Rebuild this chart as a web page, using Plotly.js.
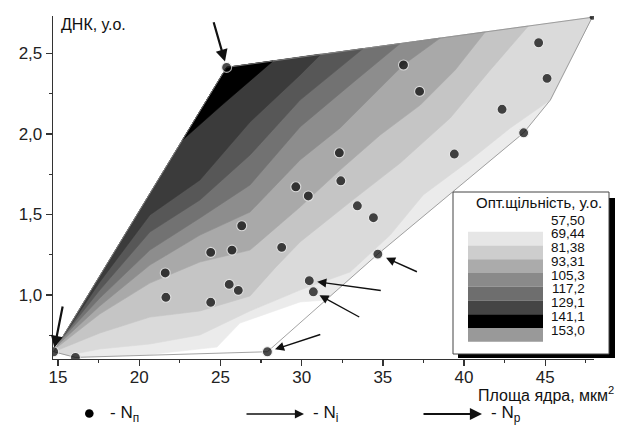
<!DOCTYPE html>
<html><head><meta charset="utf-8">
<script src="https://cdn.plot.ly/plotly-3.0.1.min.js"></script>
<style>html,body{margin:0;padding:0;background:#fff;}#chart{width:627px;height:425px;}</style>
</head><body><div id="chart"></div>
<script>
// Measured points: nucleus area (µm²) and DNA content (a.u.)
const areaX = [14.73,16.07,27.89,21.60,21.64,24.40,24.40,25.71,25.54,26.10,26.31,28.77,25.38,29.64,30.41,30.47,30.72,32.32,32.41,33.43,34.42,34.69,36.27,37.26,39.40,42.34,43.67,44.59,45.11,47.89];
const dnaY  = [0.648,0.613,0.648,1.137,0.986,1.265,0.955,1.279,1.066,1.029,1.430,1.296,2.413,1.672,1.615,1.089,1.020,1.883,1.709,1.554,1.480,1.254,2.428,2.264,1.875,2.153,2.007,2.566,2.345,2.724];

// Outer hull of the interpolated region: A,H,G,F,E,D,C,B
const hullX = [14.73,16.07,27.89,34.69,43.67,45.31,47.89,25.38];
const hullY = [0.648,0.613,0.648,1.254,2.007,2.210,2.724,2.413];

// Contour boundaries (light -> dark)
const K1x=[20.653,24.784,26.202,29.901,31.486];
const K1y=[0.631,0.677,0.826,0.957,0.969];
const K2x=[15.598,17.571,20.653,23.736,26.819,29.901,32.984,35.450,37.484,40.383,42.848,45.31];
const K2y=[0.626,0.665,0.696,0.752,0.901,1.031,1.143,1.372,1.621,1.838,2.037,2.210];
const K3x=[14.73,17.571,20.653,23.736,26.819,28.360,29.901,32.984,36.067,39.149,41.615,43.958];
const K3y=[0.648,0.764,0.863,0.901,0.994,1.168,1.329,1.577,1.819,2.099,2.397,2.670];
const K4x=[14.864,17.571,20.653,23.736,26.819,29.901,32.368,34.834,37.300,39.457,41.307];
const K4y=[0.669,0.882,1.074,1.205,1.279,1.546,1.776,1.993,2.179,2.397,2.633];
const K5x=[15.000,17.571,20.653,23.736,26.819,29.901,32.368,36.252,38.533];
const K5y=[0.692,0.932,1.186,1.372,1.515,1.838,2.037,2.428,2.595];
const K6x=[15.160,17.571,20.653,23.736,26.819,29.901,32.984,36.067];
const K6y=[0.719,0.981,1.279,1.478,1.683,2.043,2.304,2.561];
const K7x=[15.265,17.571,20.653,23.736,26.819,29.901,33.786];
const K7y=[0.736,1.031,1.391,1.590,1.869,2.210,2.530];
const K8x=[15.376,17.571,20.653,23.736,26.819,29.901,31.196];
const K8y=[0.752,1.081,1.497,1.714,2.074,2.366,2.496];
const K9x=[22.663,25.092,28.237];
const K9y=[1.962,2.179,2.453];

const bandColors=['#ebebeb','#dadada','#c5c5c5','#a9a9a9','#8d8d8d','#727272','#575757','#3b3b3b','#000000'];

// Legend of the contour levels
const levelLabels=['57,50','69,44','81,38','93,31','105,3','117,2','129,1','141,1','153,0'];
const legendColors=['#e6e6e6','#cdcdcd','#ababab','#8a8a8a','#6e6e6e','#454545','#000000','#999999'];

const FONT='Liberation Sans, Arial, sans-serif';
const bounds=[
  {x:K1x,y:K1y,tail:[3,4,5,6,7,0,1]},
  {x:K2x,y:K2y,tail:[6,7,0]},
  {x:K3x,y:K3y,tail:[7]},
  {x:K4x,y:K4y,tail:[7]},
  {x:K5x,y:K5y,tail:[7]},
  {x:K6x,y:K6y,tail:[7]},
  {x:K7x,y:K7y,tail:[7]},
  {x:K8x,y:K8y,tail:[7]},
  {x:K9x,y:K9y,tail:[7]}
];
const traces=[];
bounds.forEach((b,i)=>{
  const px=b.x.slice(), py=b.y.slice();
  b.tail.forEach(k=>{px.push(hullX[k]);py.push(hullY[k]);});
  px.push(px[0]);py.push(py[0]);
  traces.push({type:'scatter',mode:'lines',x:px,y:py,fill:'toself',fillcolor:bandColors[i],
    line:{color:bandColors[i],width:0.6},hoverinfo:'skip'});
});
traces.push({type:'scatter',mode:'lines',x:hullX.concat([hullX[0]]),y:hullY.concat([hullY[0]]),
  line:{color:'#8c8c8c',width:0.8},hoverinfo:'skip'});
const sizes=areaX.map((v,i)=>i===areaX.length-1?5:10);
const lw=areaX.map((v,i)=>i===areaX.length-1?0:1.1);
traces.push({type:'scatter',mode:'markers',x:areaX,y:dnaY,
  marker:{color:'#000',size:sizes,line:{color:'#eeeeee',width:lw}},hoverinfo:'skip'});

// pixel -> paper helpers for the free-standing decorations
const L=53,T=16,W=541,H=343;
const PXx=p=>(p-L)/W, PYy=p=>(T+H-p)/H;

const ann=[];
ann.push({xref:'paper',yref:'paper',x:PXx(59),y:PYy(24),xanchor:'left',yanchor:'middle',showarrow:false,
  text:'ДНК, у.о.',font:{family:FONT,size:16,color:'#111'}});
ann.push({xref:'paper',yref:'paper',x:PXx(616),y:PYy(394),xanchor:'right',yanchor:'middle',showarrow:false,
  text:'Площа ядра, мкм<sup>2</sup>',font:{family:FONT,size:16,color:'#111'}});
ann.push({xref:'paper',yref:'paper',x:PXx(538.5),y:PYy(202),xanchor:'center',yanchor:'middle',showarrow:false,
  text:'Опт.щільність, у.о.',font:{family:FONT,size:15,color:'#111'}});
levelLabels.forEach((t,i)=>ann.push({xref:'paper',yref:'paper',x:PXx(587),y:PYy(220+13.75*i),xanchor:'right',yanchor:'middle',
  showarrow:false,text:t,font:{family:FONT,size:13.5,color:'#111'}}));

// arrows pointing to points: [pointIndex, ax, ay, standoff, thick]
const arrowSpecs=[[12,-13.4,-46.6,6,true],[0,9.3,-46.7,4,true],[21,40.6,18.3,9,false],[15,73,10,8,false],[16,47.4,26,7,false],[2,54.4,-17.7,8,false]];
arrowSpecs.forEach(s=>ann.push({xref:'x',yref:'y',x:areaX[s[0]],y:dnaY[s[0]],ax:s[1],ay:s[2],standoff:s[3],
  showarrow:true,text:'',arrowcolor:'#111',arrowhead:2,arrowsize:s[4]?1.1:1.3,arrowwidth:s[4]?2.2:1.4}));

// bottom legend
ann.push({xref:'paper',yref:'paper',x:PXx(108),y:PYy(414),xanchor:'left',yanchor:'middle',showarrow:false,
  text:'- N<sub>п</sub>',font:{family:FONT,size:17,color:'#111'}});
ann.push({xref:'paper',yref:'paper',x:PXx(304),y:PYy(414),ax:-59,ay:0,standoff:0,showarrow:true,text:'',
  arrowcolor:'#111',arrowhead:2,arrowsize:1.3,arrowwidth:1.4});
ann.push({xref:'paper',yref:'paper',x:PXx(311),y:PYy(414),xanchor:'left',yanchor:'middle',showarrow:false,
  text:'- N<sub>і</sub>',font:{family:FONT,size:17,color:'#111'}});
ann.push({xref:'paper',yref:'paper',x:PXx(482),y:PYy(414),ax:-60,ay:0,standoff:0,showarrow:true,text:'',
  arrowcolor:'#111',arrowhead:2,arrowsize:1.1,arrowwidth:2.2});
ann.push({xref:'paper',yref:'paper',x:PXx(489),y:PYy(414),xanchor:'left',yanchor:'middle',showarrow:false,
  text:'- N<sub>р</sub>',font:{family:FONT,size:17,color:'#111'}});

const shapes=[];
shapes.push({type:'rect',xref:'paper',yref:'paper',x0:PXx(458),x1:PXx(615),y0:PYy(358),y1:PYy(198),fillcolor:'#000',line:{width:0}});
shapes.push({type:'rect',xref:'paper',yref:'paper',x0:PXx(453),x1:PXx(609),y0:PYy(354),y1:PYy(192),fillcolor:'#fff',line:{color:'#444',width:1}});
legendColors.forEach((c,i)=>shapes.push({type:'rect',xref:'paper',yref:'paper',x0:PXx(468),x1:PXx(543),
  y0:PYy(231.7+13.75*(i+1)),y1:PYy(231.7+13.75*i),fillcolor:c,line:{width:0}}));
shapes.push({type:'circle',xref:'paper',yref:'paper',x0:PXx(85),x1:PXx(93.6),y0:PYy(417.8),y1:PYy(409.2),fillcolor:'#000',line:{width:0}});

const axCommon={showgrid:false,zeroline:false,showline:true,linecolor:'#333',linewidth:1.3,ticks:'outside',ticklen:6,tickwidth:1.3,tickcolor:'#333',
  tickfont:{family:FONT,size:17,color:'#222'}};
const layout={width:627,height:425,margin:{l:L,r:627-L-W,t:T,b:425-T-H},paper_bgcolor:'#fff',plot_bgcolor:'#fff',
  separators:', ',showlegend:false,
  xaxis:Object.assign({},axCommon,{range:[14.69,48.0],tick0:15,dtick:5,ticklabelstandoff:-4,minor:{dtick:2.5,ticks:'outside',ticklen:3,tickwidth:1.2,tickcolor:'#333'}}),
  yaxis:Object.assign({},axCommon,{range:[0.603,2.732],tick0:1,dtick:0.5,tickformat:'.1f',minor:{dtick:0.25,tick0:0.75,ticks:'outside',ticklen:3,tickwidth:1.2,tickcolor:'#333'}}),
  annotations:ann,shapes:shapes};
Plotly.newPlot('chart',traces,layout,{staticPlot:true,displayModeBar:false});
</script></body></html>
